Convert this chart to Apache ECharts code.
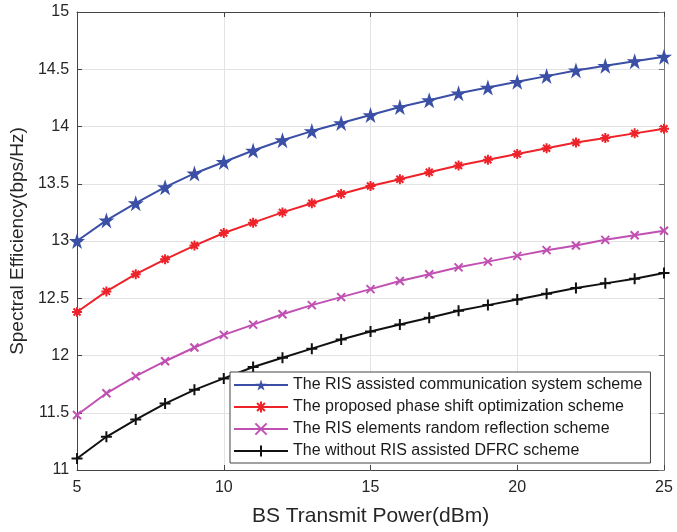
<!DOCTYPE html>
<html>
<head>
<meta charset="utf-8">
<script src="https://cdn.jsdelivr.net/npm/echarts@6/dist/echarts.min.js"></script>
<style>
  html, body { margin: 0; padding: 0; background: #fff; }
  #chart { width: 677px; height: 532px; }
</style>
</head>
<body>
<div id="chart"></div>
<script>
// x: BS transmit power (dBm)
var power = [5, 6, 7, 8, 9, 10, 11, 12, 13, 14, 15, 16, 17, 18, 19, 20, 21, 22, 23, 24, 25];
var risComm = [13.00, 13.18, 13.33, 13.47, 13.59, 13.69, 13.79, 13.88, 13.96, 14.03, 14.10, 14.17, 14.23, 14.29, 14.34, 14.39, 14.44, 14.49, 14.53, 14.57, 14.61];
var proposed = [12.38, 12.56, 12.71, 12.84, 12.96, 13.07, 13.16, 13.25, 13.33, 13.41, 13.48, 13.54, 13.60, 13.66, 13.71, 13.76, 13.81, 13.86, 13.90, 13.94, 13.98];
var randomRefl = [11.48, 11.67, 11.82, 11.95, 12.07, 12.18, 12.27, 12.36, 12.44, 12.51, 12.58, 12.65, 12.71, 12.77, 12.82, 12.87, 12.92, 12.96, 13.01, 13.05, 13.09];
var withoutRis = [11.10, 11.29, 11.44, 11.58, 11.70, 11.80, 11.90, 11.98, 12.06, 12.14, 12.21, 12.27, 12.33, 12.39, 12.44, 12.49, 12.54, 12.59, 12.63, 12.67, 12.72];
var names = [
  'The RIS assisted communication system scheme',
  'The proposed phase shift optimization scheme',
  'The RIS elements random reflection scheme',
  'The without RIS assisted DFRC scheme'
];

var STAR = 'path://M0,-100L22.5,-30.9L95.1,-30.9L36.3,11.8L58.8,80.9L0,38.2L-58.8,80.9L-36.3,11.8L-95.1,-30.9L-22.5,-30.9Z';
var ASTER = 'path://M0,-100L0,100M-100,0L100,0M-70,-70L70,70M-70,70L70,-70';
var CROSS = 'path://M-100,-100L100,100M-100,100L100,-100';
var PLUS = 'path://M0,-100L0,100M-100,0L100,0';

var font = '"Liberation Sans", Arial, sans-serif';

function pairs(ys) {
  return power.map(function (x, i) { return [x, ys[i]]; });
}

function makeSeries(name, ys, color, symbol, size, bw) {
  return {
    name: name,
    type: 'line',
    data: pairs(ys),
    symbol: symbol,
    symbolSize: size,
    showSymbol: true,
    lineStyle: { color: color, width: 2 },
    itemStyle: { color: color, borderColor: color, borderWidth: bw },
    emphasis: { disabled: true }
  };
}

var chart = echarts.init(document.getElementById('chart'));
chart.setOption({
  animation: false,
  textStyle: { fontFamily: font },
  grid: { left: 77, right: 13, top: 12, bottom: 58 },
  legend: {
    orient: 'vertical',
    left: 230,
    top: 372,
    padding: [5, 8, 4, 3],
    itemGap: 6,
    itemWidth: 54,
    itemHeight: 14,
    borderColor: '#444',
    borderWidth: 1,
    backgroundColor: '#fff',
    textStyle: { fontSize: 16, color: '#1a1a1a', fontFamily: font },
    data: names
  },
  xAxis: [{
    type: 'value',
    min: 5,
    max: 25,
    interval: 5,
    name: 'BS Transmit Power(dBm)',
    nameLocation: 'middle',
    nameGap: 36,
    nameTextStyle: { fontSize: 21, color: '#262626', fontFamily: font },
    axisLine: { lineStyle: { color: '#444', width: 1 } },
    axisTick: { inside: true, length: 5, lineStyle: { color: '#444' } },
    axisLabel: { fontSize: 16, color: '#262626', margin: 10, fontFamily: font },
    splitLine: { show: true, lineStyle: { color: '#e3e3e3', width: 1 } }
  }, {
    type: 'value',
    position: 'top',
    min: 5,
    max: 25,
    interval: 5,
    axisLine: { lineStyle: { color: '#444', width: 1 } },
    axisTick: { inside: true, length: 5, lineStyle: { color: '#444' } },
    axisLabel: { show: false },
    splitLine: { show: false }
  }],
  yAxis: [{
    type: 'value',
    min: 11,
    max: 15,
    interval: 0.5,
    name: 'Spectral Efficiency(bps/Hz)',
    nameLocation: 'middle',
    nameGap: 47,
    nameTextStyle: { fontSize: 19, color: '#262626', fontFamily: font },
    axisLine: { show: true, lineStyle: { color: '#444', width: 1 } },
    axisTick: { show: true, inside: true, length: 5, lineStyle: { color: '#444' } },
    axisLabel: { fontSize: 16, color: '#262626', margin: 8, fontFamily: font },
    splitLine: { show: true, lineStyle: { color: '#e3e3e3', width: 1 } }
  }, {
    type: 'value',
    position: 'right',
    min: 11,
    max: 15,
    interval: 0.5,
    axisLine: { show: true, lineStyle: { color: '#777', width: 1 } },
    axisTick: { show: true, inside: true, length: 5, lineStyle: { color: '#777' } },
    axisLabel: { show: false },
    splitLine: { show: false }
  }],
  series: [
    makeSeries(names[0], risComm, '#3a4fa5', STAR, 16, 0),
    makeSeries(names[1], proposed, '#ee2229', ASTER, 10, 2),
    makeSeries(names[2], randomRefl, '#c150b3', CROSS, 8, 2),
    makeSeries(names[3], withoutRis, '#111111', PLUS, 11, 2)
  ]
});
</script>
</body>
</html>
